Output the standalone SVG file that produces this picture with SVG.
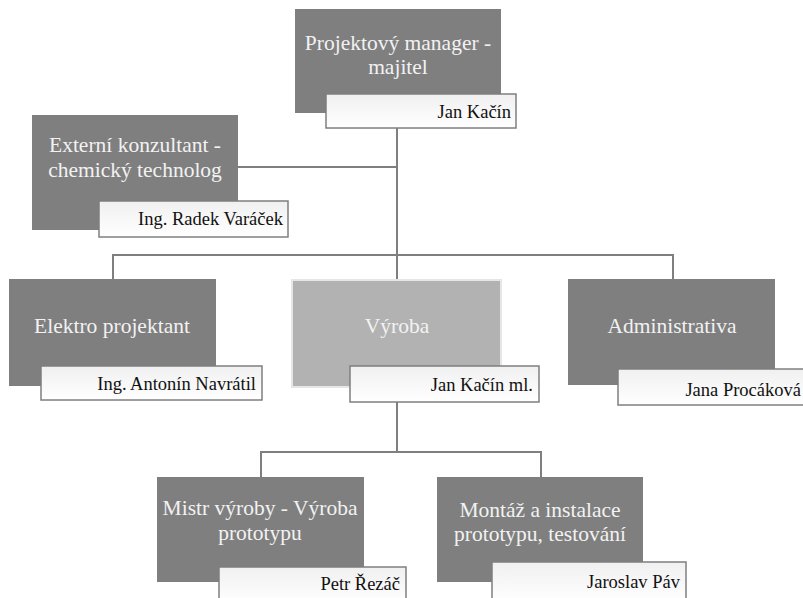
<svg xmlns="http://www.w3.org/2000/svg" width="803" height="598" viewBox="0 0 803 598">
<defs>
<linearGradient id="lg" x1="0" y1="0" x2="0" y2="1">
<stop offset="0" stop-color="#f0f0f0"/>
<stop offset="1" stop-color="#ffffff"/>
</linearGradient>
</defs>
<style>
.box{fill:#7f7f7f}
.boxl{fill:#b2b2b2;stroke:#e6e6e6;stroke-width:2}
.lab{fill:url(#lg);stroke:#7f7f7f;stroke-width:1.5}
.t{font-family:"Liberation Serif","Times New Roman",serif;font-size:21.5px;fill:#f2f2f2;text-anchor:middle}
.n{font-family:"Liberation Serif","Times New Roman",serif;font-size:18.5px;fill:#111;text-anchor:end}
.c{fill:none;stroke:#7f7f7f;stroke-width:2}
</style>
<rect width="803" height="598" fill="#ffffff"/>
<g id="connectors">
<path class="c" d="M397 128 V255"/>
<path class="c" d="M238 167 H397"/>
<path class="c" d="M113 279 V255 H673 V279"/>
<path class="c" d="M397 255 V280"/>
<path class="c" d="M397 402 V452"/>
<path class="c" d="M261 477 V452 H541 V477"/>
</g>
<g id="manager">
<rect class="box" x="295" y="9" width="206" height="104"/>
<text class="t" x="398" y="50">Projektový manager -</text>
<text class="t" x="398" y="74">majitel</text>
<rect class="lab" x="326" y="94" width="190" height="34"/>
<text class="n" x="511" y="118">Jan Kačín</text>
</g>
<g id="externi">
<rect class="box" x="32" y="115" width="206" height="115"/>
<text class="t" x="135" y="152">Externí konzultant -</text>
<text class="t" x="135" y="177">chemický technolog</text>
<rect class="lab" x="99" y="201" width="189" height="36"/>
<text class="n" x="283" y="225">Ing. Radek Varáček</text>
</g>
<g id="elektro">
<rect class="box" x="9" y="279" width="207" height="107"/>
<text class="t" x="112" y="333">Elektro projektant</text>
<rect class="lab" x="41" y="366" width="221" height="34"/>
<text class="n" x="256" y="390">Ing. Antonín Navrátil</text>
</g>
<g id="vyroba">
<rect class="boxl" x="292" y="280" width="209" height="107"/>
<text class="t" x="397" y="333">Výroba</text>
<rect class="lab" x="350" y="366" width="189" height="36"/>
<text class="n" x="533" y="391">Jan Kačín ml.</text>
</g>
<g id="administrativa">
<rect class="box" x="568" y="279" width="207" height="106"/>
<text class="t" x="672" y="333">Administrativa</text>
<rect class="lab" x="618" y="369" width="190" height="36"/>
<text class="n" x="801" y="396">Jana Procáková</text>
</g>
<g id="mistr">
<rect class="box" x="157" y="477" width="207" height="105"/>
<text class="t" x="260" y="515">Mistr výroby - Výroba</text>
<text class="t" x="260" y="540">prototypu</text>
<rect class="lab" x="219" y="567" width="187" height="36"/>
<text class="n" x="400" y="590">Petr Řezáč</text>
</g>
<g id="montaz">
<rect class="box" x="437" y="477" width="206" height="105"/>
<text class="t" x="540" y="517">Montáž a instalace</text>
<text class="t" x="540" y="541">prototypu, testování</text>
<rect class="lab" x="492" y="562" width="194" height="40"/>
<text class="n" x="680" y="588">Jaroslav Páv</text>
</g>
</svg>
